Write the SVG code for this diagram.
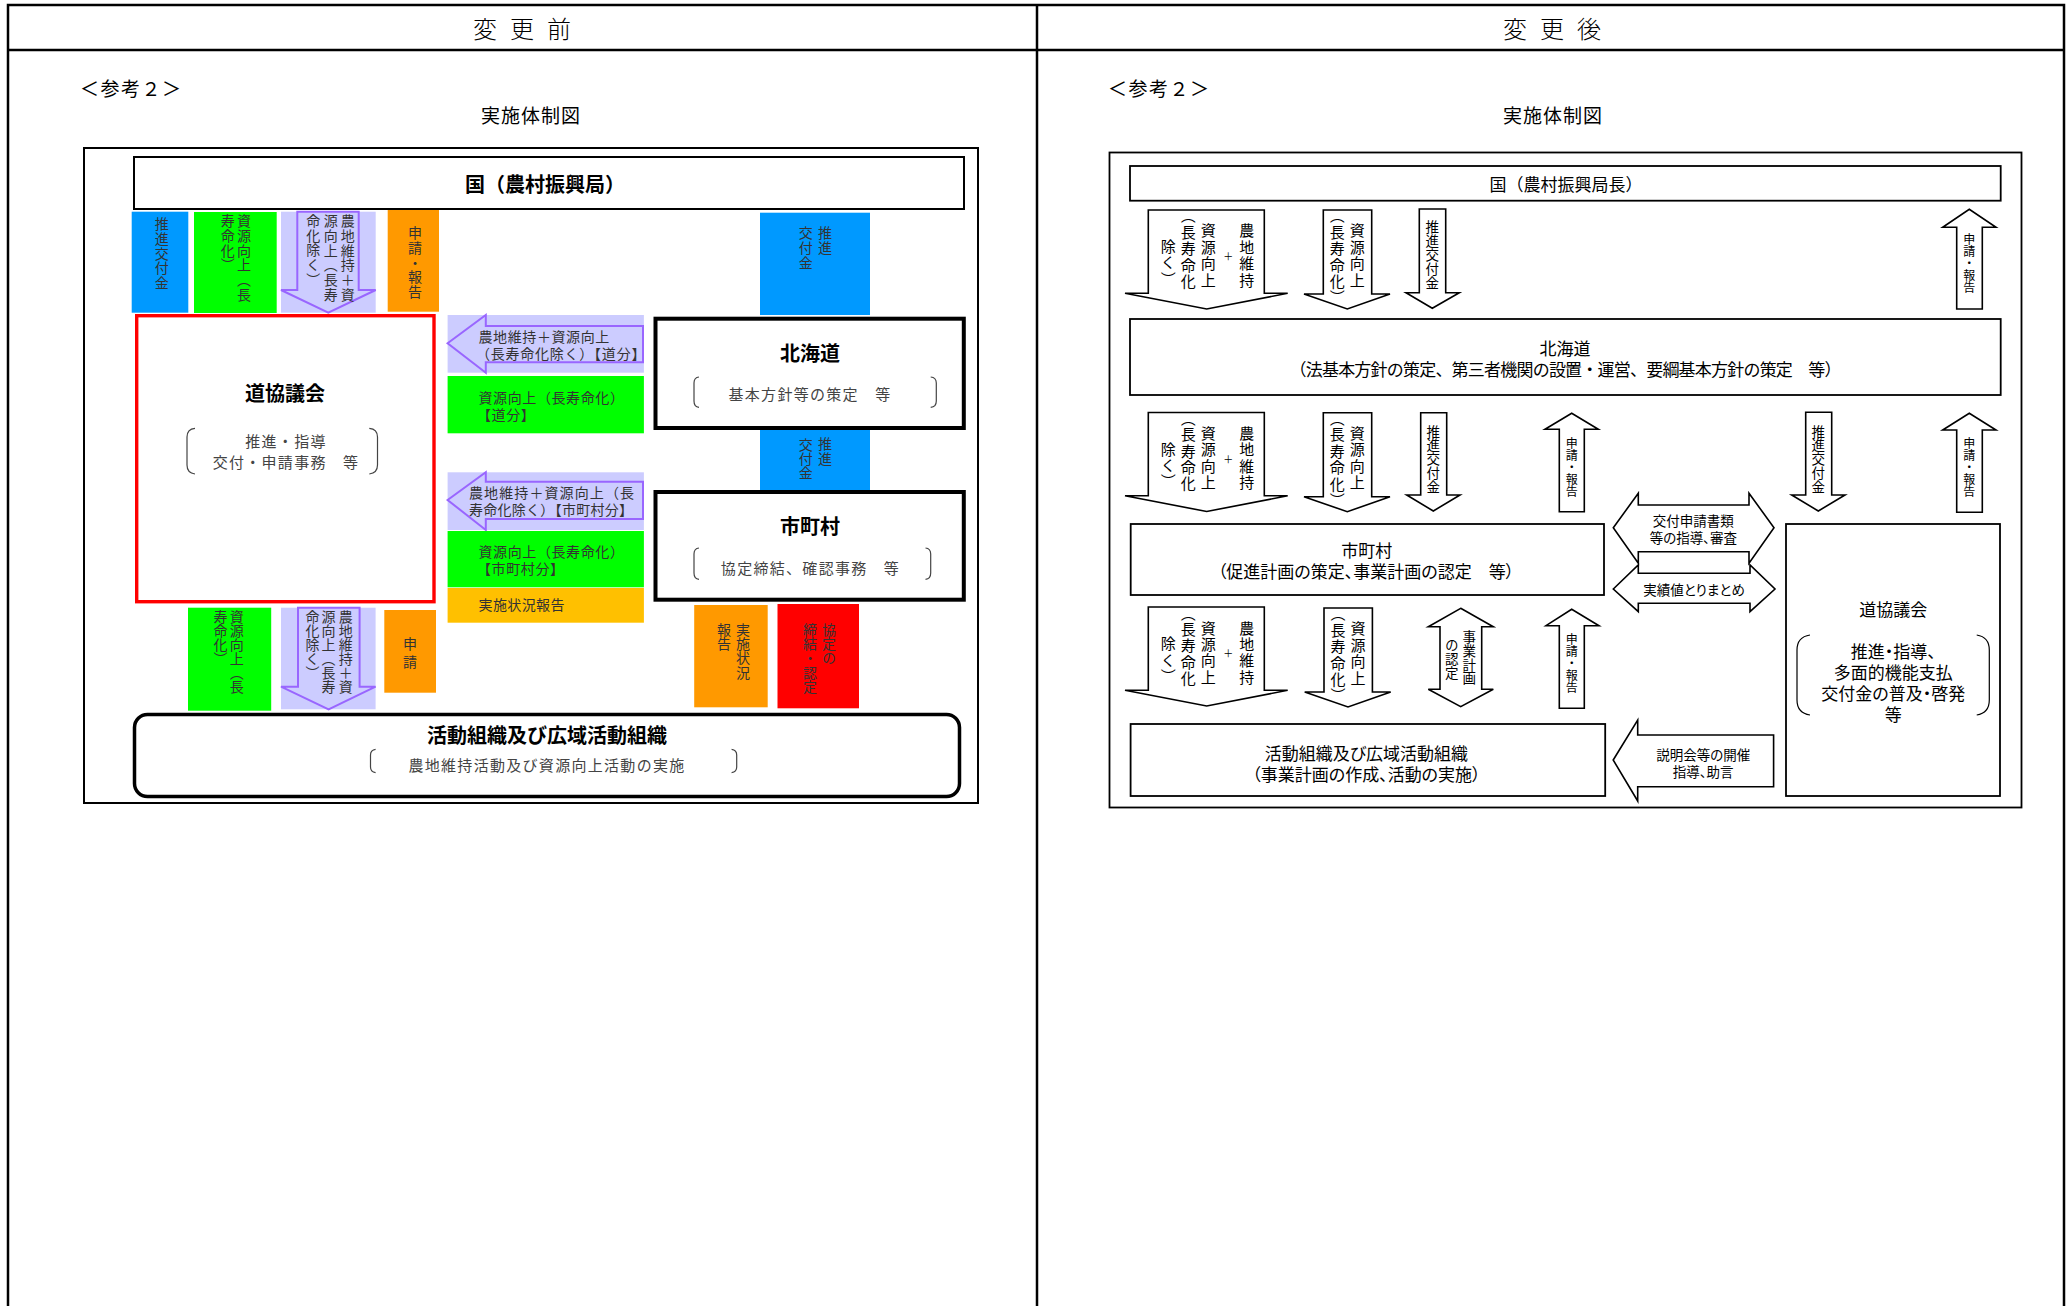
<svg xmlns="http://www.w3.org/2000/svg" width="2071" height="1306" viewBox="0 0 2071 1306">
<defs>
<style>
text{font-family:"Noto Sans CJK JP","Noto Sans CJK SC",sans-serif;fill:#000}
.c{text-anchor:middle;dominant-baseline:central}
.s{dominant-baseline:central}
.v{writing-mode:vertical-rl;dominant-baseline:central}
.hd{font-size:24px;letter-spacing:13px;font-weight:300}
.ref{font-size:19px;letter-spacing:1.5px}
.ttl{font-size:19px;letter-spacing:1px}
.b20{font-size:20px;font-weight:700}
.g14{font-size:14px;fill:#333}
.br{font-size:15px;fill:#444;letter-spacing:1.3px}
.r17{font-size:17px}
.p{font-feature-settings:"palt"}
.r15{font-size:15px;letter-spacing:1.4px}
.r13{font-size:13.5px;font-feature-settings:"palt"}
.sh{font-size:12px}
.frame{fill:none;stroke:#000;stroke-width:2.5}
.box{fill:#fff;stroke:#000;stroke-width:1.8}
.arr{fill:#fff;stroke:#000;stroke-width:1.6}
.lav{fill:#ccccff;stroke:#9966ff;stroke-width:2}
.brk{fill:none;stroke:#444;stroke-width:1.2}
.blue{fill:#0099ff}
.green{fill:#00ff00}
.lavbg{fill:#ccccff}
.orange{fill:#ff9900}
.yellow{fill:#ffc000}
.red{fill:#ff0000}
</style>
</defs>
<rect x="0" y="0" width="2071" height="1306" fill="#fff"/>

<g id="frame">
<path class="frame" d="M8,1306 V5 H2064 V1306 M8,50 H2064 M1037,5 V1306"/>
<text class="c hd" x="528.5" y="27">変更前</text>
<text class="c hd" x="1558.5" y="27">変更後</text>
<text class="s ref" x="80" y="87">＜参考２＞</text>
<text class="s ref" x="1108" y="87">＜参考２＞</text>
<text class="c ttl" x="531" y="114">実施体制図</text>
<text class="c ttl" x="1553" y="114">実施体制図</text>
<rect x="84" y="148" width="894" height="655" fill="none" stroke="#000" stroke-width="2"/>
<rect x="1109.5" y="152.5" width="912" height="655" fill="none" stroke="#000" stroke-width="1.8"/>
</g>

<!-- LEFT PANEL connectors -->
<g id="connectors">
<g id="l-c1">
<rect class="blue" x="131.7" y="211.7" width="56.6" height="101"/>
<text class="v g14" style="letter-spacing:0.7px"><tspan x="161.7" y="217">推進交付金</tspan></text>
</g>
<g id="l-c2">
<rect class="green" x="194" y="212" width="82.7" height="101"/>
<text class="v g14" style="letter-spacing:0.7px"><tspan x="244" y="214">資源向上（長</tspan><tspan x="227.7" y="214">寿命化）</tspan></text>
</g>
<g id="l-c3">
<rect class="lavbg" x="281" y="211.7" width="94.7" height="101"/>
<path class="lav" d="M297.3,211.7 H358.7 V290 H375.7 L328.3,312.7 L281,290 H297.3 Z"/>
<text class="v g14" style="letter-spacing:0.7px"><tspan x="347.7" y="214">農地維持＋資</tspan><tspan x="330.7" y="214">源向上（長寿</tspan><tspan x="313.3" y="214">命化除く）</tspan></text>
</g>
<g id="l-c4">
<rect class="orange" x="387.7" y="209" width="51.3" height="102.7"/>
<text class="v g14" style="letter-spacing:0.75px"><tspan x="415" y="225.7">申請・報告</tspan></text>
</g>
<g id="l-c5">
<rect class="blue" x="760" y="212.7" width="110" height="102.3"/>
<text class="v g14" style="letter-spacing:1px"><tspan x="825" y="225.7">推進</tspan><tspan x="805.7" y="225.7">交付金</tspan></text>
</g>
<g id="l-c6">
<rect class="lavbg" x="447.6" y="315" width="196.3" height="57.7"/>
<path class="lav" d="M447.6,343.3 L485.8,315 V326 H643 V362.3 H485.8 V372.7 Z"/>
<text class="s g14" style="letter-spacing:0.6px"><tspan x="478.5" y="336">農地維持＋資源向上</tspan><tspan x="476" y="352.7" textLength="170">（長寿命化除く）【道分】</tspan></text>
</g>
<g id="l-c7">
<rect class="green" x="447.6" y="376" width="196.3" height="57.3"/>
<text class="s g14" style="letter-spacing:0.6px"><tspan x="478.5" y="396.7">資源向上（長寿命化）</tspan><tspan x="477" y="414">【道分】</tspan></text>
</g>
<g id="l-c8">
<rect class="blue" x="760" y="428" width="110" height="63.7"/>
<text class="v g14" style="letter-spacing:0.35px"><tspan x="825" y="437">推進</tspan><tspan x="805.7" y="437">交付金</tspan></text>
</g>
<g id="l-c9">
<rect class="lavbg" x="447.6" y="472.3" width="196.3" height="57.7"/>
<path class="lav" d="M447.6,500 L485.8,472.3 V481.7 H643 V519 H485.8 V530 Z"/>
<text class="s g14"><tspan x="469" y="492.3" textLength="165">農地維持＋資源向上（長</tspan><tspan x="469" y="509.3" textLength="164">寿命化除く）【市町村分】</tspan></text>
</g>
<g id="l-c10">
<rect class="green" x="447.6" y="531" width="196.3" height="56.3"/>
<text class="s g14" style="letter-spacing:0.6px"><tspan x="478.5" y="550.7">資源向上（長寿命化）</tspan><tspan x="477" y="568.3">【市町村分】</tspan></text>
</g>
<g id="l-c11">
<rect class="yellow" x="447.6" y="588" width="196.3" height="34.7"/>
<text class="s g14" x="478.5" y="604" style="letter-spacing:0.4px">実施状況報告</text>
</g>
<g id="l-c12">
<rect class="green" x="188" y="607.7" width="83.2" height="103"/>
<text class="v g14"><tspan x="236.7" y="609.7">資源向上（長</tspan><tspan x="220.6" y="609.7">寿命化）</tspan></text>
</g>
<g id="l-c13">
<rect class="lavbg" x="281" y="607.7" width="94.6" height="101.6"/>
<path class="lav" d="M298,607.7 H359.6 V686.7 H375.6 L328.6,709.3 L281,686.7 H298 Z"/>
<text class="v g14"><tspan x="345.8" y="609.7">農地維持＋資</tspan><tspan x="328.6" y="609.7">源向上（長寿</tspan><tspan x="312.5" y="609.7">命化除く）</tspan></text>
</g>
<g id="l-c14">
<rect class="orange" x="384.3" y="610" width="51.7" height="82.7"/>
<text class="v g14" style="letter-spacing:3.7px"><tspan x="410" y="637">申請</tspan></text>
</g>
<g id="l-c15">
<rect class="orange" x="694.2" y="605" width="73.5" height="102.3"/>
<text class="v g14" style="letter-spacing:0.4px"><tspan x="743" y="622.3">実施状況</tspan><tspan x="724" y="622.3">報告</tspan></text>
</g>
<g id="l-c16">
<rect class="red" x="777.5" y="604" width="81.5" height="104.3"/>
<text class="v g14" style="letter-spacing:0.3px"><tspan x="829" y="622.3">協定の</tspan><tspan x="810" y="622.3">締結・認定</tspan></text>
</g>

<!-- RIGHT PANEL connectors -->
<g id="r-a1">
<path class="arr" d="M1148.3,210 H1264.3 V293.3 H1287.7 L1206.7,309 L1125,293.3 H1148.3 Z"/>
<text class="v r15"><tspan x="1246.7" y="223.2">農地維持</tspan><tspan x="1228.3" y="251" style="font-size:10px">＋</tspan><tspan x="1208.3" y="223.2">資源向上</tspan><tspan x="1188.3" y="207.8">（長寿命化</tspan><tspan x="1168.3" y="238.5">除く）</tspan></text>
</g>
<g id="r-b1">
<path class="arr" d="M1323.3,210 H1371.7 V294 H1390 L1347.3,309 L1304,294 H1323.3 Z"/>
<text class="v r15"><tspan x="1357.3" y="223.2">資源向上</tspan><tspan x="1337.3" y="207.8">（長寿命化）</tspan></text>
</g>
<g id="r-c1">
<path class="arr" d="M1419.3,209 H1445.7 V292.7 H1459.3 L1432.3,308.3 L1406,292.7 H1419.3 Z"/>
<text class="v" style="font-size:13.5px;letter-spacing:0.35px"><tspan x="1432.3" y="220.5">推進交付金</tspan></text>
</g>
<g id="r-d1">
<path class="arr" d="M1956.7,309 V227.3 H1942.7 L1969.3,209.3 L1996,227.3 H1982.3 V309 Z"/>
<text class="v sh"><tspan x="1969.3" y="233.8">申請・報告</tspan></text>
</g>

<g id="r-a2">
<path class="arr" transform="translate(0,202.5)" d="M1148.3,210 H1264.3 V293.3 H1287.7 L1206.7,309 L1125,293.3 H1148.3 Z"/>
<text class="v r15"><tspan x="1246.7" y="425.7">農地維持</tspan><tspan x="1228.3" y="453.5" style="font-size:10px">＋</tspan><tspan x="1208.3" y="425.7">資源向上</tspan><tspan x="1188.3" y="410.3">（長寿命化</tspan><tspan x="1168.3" y="441">除く）</tspan></text>
</g>
<g id="r-b2">
<path class="arr" transform="translate(0,202.7)" d="M1323.3,210 H1371.7 V294 H1390 L1347.3,309 L1304,294 H1323.3 Z"/>
<text class="v r15"><tspan x="1357.3" y="425.9">資源向上</tspan><tspan x="1337.3" y="410.5">（長寿命化）</tspan></text>
</g>
<g id="r-c2">
<path class="arr" d="M1420.7,412.7 H1446.7 V495 H1460 L1433.3,511 L1406.7,495 H1420.7 Z"/>
<text class="v" style="font-size:13.5px;letter-spacing:0.35px"><tspan x="1433.3" y="424.7">推進交付金</tspan></text>
</g>
<g id="r-d2">
<path class="arr" d="M1559.3,511.7 V429.3 H1545 L1571.7,413.3 L1598.3,429.3 H1584.3 V511.7 Z"/>
<text class="v sh"><tspan x="1571.7" y="437.8">申請・報告</tspan></text>
</g>
<g id="r-c3">
<path class="arr" d="M1805.7,412.3 H1831.7 V495 H1845 L1818.3,511 L1791.7,495 H1805.7 Z"/>
<text class="v" style="font-size:13.5px;letter-spacing:0.35px"><tspan x="1818.3" y="424.7">推進交付金</tspan></text>
</g>
<g id="r-d3">
<path class="arr" d="M1956.7,512.3 V430 H1942.7 L1969.3,413.3 L1996,430 H1982.3 V512.3 Z"/>
<text class="v sh"><tspan x="1969.3" y="437.8">申請・報告</tspan></text>
</g>

<g id="r-e1">
<path class="arr" d="M1613.3,589 L1638.3,565 V573.3 H1750 V565 L1775,589 L1750,611.7 V603.3 H1638.3 V611.7 Z"/>
<text class="c r13" x="1694" y="589">実績値とりまとめ</text>
</g>
<g id="r-e2">
<path class="arr" d="M1613.3,527.7 L1638.3,493.3 V505 H1749 V493.3 L1774,527.7 L1749,563.3 V551.7 H1638.3 V563.3 Z"/>
<text class="c r13"><tspan x="1693.3" y="520">交付申請書類</tspan><tspan x="1693.3" y="536.7">等の指導、審査</tspan></text>
</g>

<g id="r-a3">
<path class="arr" transform="translate(0,397)" d="M1148.3,210 H1264.3 V293.3 H1287.7 L1206.7,309 L1125,293.3 H1148.3 Z"/>
<text class="v r15"><tspan x="1246.7" y="620.5">農地維持</tspan><tspan x="1228.3" y="648.3" style="font-size:10px">＋</tspan><tspan x="1208.3" y="620.5">資源向上</tspan><tspan x="1188.3" y="605.1">（長寿命化</tspan><tspan x="1168.3" y="635.8">除く）</tspan></text>
</g>
<g id="r-b3">
<path class="arr" transform="translate(0.7,398)" d="M1323.3,210 H1371.7 V294 H1390 L1347.3,309 L1304,294 H1323.3 Z"/>
<text class="v r15"><tspan x="1358" y="621.2">資源向上</tspan><tspan x="1338" y="605.8">（長寿命化）</tspan></text>
</g>
<g id="r-f1">
<path class="arr" d="M1460.7,608.3 L1493.3,626.7 H1481.7 V689.3 H1493.3 L1460.7,706.7 L1428.3,689.3 H1440 V626.7 H1428.3 Z"/>
<text class="v" style="font-size:13.5px;letter-spacing:0.2px"><tspan x="1469.3" y="630.5">事業計画</tspan><tspan x="1451.7" y="638.2">の認定</tspan></text>
</g>
<g id="r-d4">
<path class="arr" d="M1559.3,708.3 V625.7 H1546 L1571.7,609.3 L1599,625.7 H1584.3 V708.3 Z"/>
<text class="v sh"><tspan x="1571.7" y="633.8">申請・報告</tspan></text>
</g>
<g id="r-g1">
<path class="arr" d="M1613.2,760 L1637.7,720 V735 H1773.6 V786.7 H1637.7 V801 Z"/>
<text class="c r13"><tspan x="1703.2" y="754.3">説明会等の開催</tspan><tspan x="1703.2" y="771">指導、助言</tspan></text>
</g>
</g>

<!-- LEFT PANEL nodes -->
<g id="l-kuni">
<rect x="134" y="157" width="830" height="52" fill="#fff" stroke="#000" stroke-width="2"/>
<text class="s b20" x="465" y="183">国（農村振興局）</text>
</g>
<g id="l-dokyo">
<rect x="136.7" y="315.7" width="297.3" height="286" fill="#fff" stroke="#ff0000" stroke-width="3.4"/>
<text class="c b20" x="285" y="392.7">道協議会</text>
<path class="brk" d="M195,428.3 Q187,429 187,437 V465 Q187,473 195,474 M369.3,428.3 Q377.5,429 377.5,437 V465 Q377.5,473 369.3,474"/>
<text class="c br"><tspan x="286" y="440">推進・指導</tspan><tspan x="286" y="460.7">交付・申請事務　等</tspan></text>
</g>
<g id="l-hokkaido">
<rect x="655.5" y="318.7" width="308.3" height="109.3" fill="#fff" stroke="#000" stroke-width="4"/>
<text class="c b20" x="810" y="352.7">北海道</text>
<path class="brk" d="M699,377 Q694,377.5 694,383 V401 Q694,407 699,407.3 M930.7,377 Q936.3,377.5 936.3,383 V401 Q936.3,407 930.7,407.3"/>
<text class="c br" x="810" y="393.3">基本方針等の策定　等</text>
</g>
<g id="l-shicho">
<rect x="655.5" y="492" width="308.3" height="107.7" fill="#fff" stroke="#000" stroke-width="4"/>
<text class="c b20" x="810" y="525.7">市町村</text>
<path class="brk" d="M699,548 Q694,548.5 694,554 V573 Q694,579 699,579.3 M925.5,548 Q930.7,548.5 930.7,554 V573 Q930.7,579 925.5,579.3"/>
<text class="c br" x="810.5" y="567.3">協定締結、確認事務　等</text>
</g>
<g id="l-katsudo">
<rect x="134.5" y="714.5" width="825" height="82" rx="13" fill="#fff" stroke="#000" stroke-width="3.5"/>
<text class="c b20" x="547" y="734">活動組織及び広域活動組織</text>
<path class="brk" d="M375.6,749.3 Q370.5,750 370.5,755 V767 Q370.5,772 375.6,772.7 M731.6,749.3 Q736.7,750 736.7,755 V767 Q736.7,772 731.6,772.7"/>
<text class="c br" x="547" y="764">農地維持活動及び資源向上活動の実施</text>
</g>

<!-- RIGHT PANEL nodes -->
<g id="r-kuni">
<rect class="box" x="1130" y="166" width="870.7" height="34.7"/>
<text class="c r17" x="1566" y="183.3">国（農村振興局長）</text>
</g>
<g id="r-hokkaido">
<rect class="box" x="1130" y="319" width="870.7" height="76"/>
<text class="c r17"><tspan x="1565" y="346.7">北海道</tspan><tspan x="1565.5" y="368.3" textLength="552">（法基本方針の策定、第三者機関の設置・運営、要綱基本方針の策定　等）</tspan></text>
</g>
<g id="r-shicho">
<rect class="box" x="1130.7" y="524" width="473.3" height="71"/>
<text class="c r17 p"><tspan x="1366.7" y="549">市町村</tspan><tspan x="1366" y="570">（促進計画の策定、事業計画の認定　等）</tspan></text>
</g>
<g id="r-dokyo">
<rect class="box" x="1786" y="524" width="214" height="272"/>
<text class="c r17" x="1893.3" y="608.3">道協議会</text>
<path d="M1810,635 Q1797,637 1797,650 V700 Q1797,713 1810,715 M1976.7,635 Q1989.3,637 1989.3,650 V700 Q1989.3,713 1976.7,715" fill="none" stroke="#000" stroke-width="1.2"/>
<text class="c r17 p"><tspan x="1893.3" y="649.5">推進・指導、</tspan><tspan x="1893.3" y="670.8">多面的機能支払</tspan><tspan x="1893.3" y="692.1">交付金の普及・啓発</tspan><tspan x="1893.3" y="713.4">等</tspan></text>
</g>
<g id="r-katsudo">
<rect class="box" x="1130.6" y="724" width="474.6" height="72"/>
<text class="c r17 p"><tspan x="1366.4" y="751.5">活動組織及び広域活動組織</tspan><tspan x="1366.4" y="772.8">（事業計画の作成、活動の実施）</tspan></text>
</g>
</svg>
